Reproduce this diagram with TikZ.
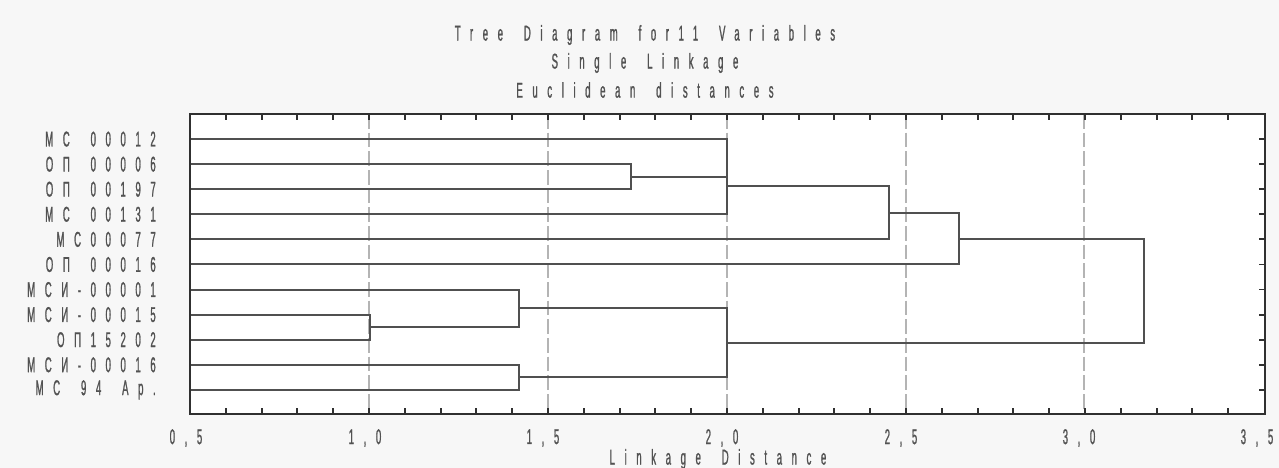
\documentclass[tikz,border=0pt]{standalone}
\usepackage{fontspec}
\newfontfamily\labfont[FakeStretch=0.45,LetterSpace=45,WordSpace=1.7,FakeBold=1]{Liberation Sans}
\definecolor{bgout}{HTML}{F7F7F7}
\definecolor{treecol}{HTML}{505050}
\definecolor{framecol}{HTML}{303030}
\definecolor{gridcol}{HTML}{B4B4B4}
\begin{document}
\begin{tikzpicture}[x=0.75pt,y=-0.75pt,
  lab/.style={font=\labfont\fontsize{16}{17}\selectfont,text=black!68,inner sep=0pt},
  leaf/.style={lab,anchor=east},
  tree/.style={draw=treecol,line width=1.5pt},
  grid/.style={draw=gridcol,line width=1.2pt,dash pattern=on 11pt off 3pt},
  frame/.style={draw=framecol,line width=1.6pt},
  tick/.style={draw=framecol,line width=1.4pt}]
\useasboundingbox (0,0) rectangle (1279,468);
\fill[bgout] (0,0) rectangle (1279,468);
\fill[white] (190,114) rectangle (1265,414);
% titles
\node[lab] (t1) at (645,35) {Tree Diagram for11 Variables};
\node[lab] (t2) at (645,63) {Single Linkage};
\node[lab] (t3) at (645,90) {Euclidean distances};
% grid lines
\foreach \gx in {369,548,727,906,1084}
  \draw[grid] (\gx,114) -- (\gx,414);
% ticks top/bottom every 0.1
\foreach \i in {1,...,29}{
  \pgfmathsetmacro\tx{190+\i*35.8}
  \draw[tick] (\tx,114) -- (\tx,120);
  \draw[tick] (\tx,414) -- (\tx,408);
}
% rows
\foreach \i in {1,...,11}{
  \pgfmathsetmacro\ry{114+\i*25.08}
  \coordinate (r\i) at (190,\ry);
  \draw[tick] (1265,\ry) -- (1259,\ry);
}
% leaf labels
\node[leaf] (n1) at (156,139.1) {MC 00012};
\node[leaf] (n2) at (156,164.2) {ОП 00006};
\node[leaf] (n3) at (156,189.2) {ОП 00197};
\node[leaf] (n4) at (156,214.3) {MC 00131};
\node[leaf] (n5) at (156,239.4) {MC00077};
\node[leaf] (n6) at (156,264.5) {ОП 00016};
\node[leaf] (n7) at (156,289.6) {MCИ-00001};
\node[leaf] (n8) at (156,314.6) {MCИ-00015};
\node[leaf] (n9) at (156,339.7) {ОП15202};
\node[leaf] (n10) at (156,364.8) {MCИ-00016};
\node[leaf] (n11) at (156,389.9) {MC 94 Ap.};
% merge points
\coordinate (m23) at (631,176.7);
\coordinate (mA) at (727,157.9);
\coordinate (mB) at (727,186.1);
\coordinate (mC) at (889,212.75);
\coordinate (mD) at (959,238.6);
\coordinate (m89) at (370,327.15);
\coordinate (m7) at (519,308.4);
\coordinate (m1011) at (519,377.35);
\coordinate (mL) at (727,342.9);
\coordinate (root) at (1144,290.7);
% dendrogram
\draw[tree] (r2) -| (m23) |- (r3);
\draw[tree] (r1) -| (mA) |- (m23);
\draw[tree] (mA) |- (r4);
\draw[tree] (mB) -| (mC) |- (r5);
\draw[tree] (mC) -| (mD) |- (r6);
\draw[tree] (r8) -| (m89) |- (r9);
\draw[tree] (r7) -| (m7) |- (m89);
\draw[tree] (r10) -| (m1011) |- (r11);
\draw[tree] (m7) -| (mL) |- (m1011);
\draw[tree] (mD) -| (root) |- (mL);
% frame
\draw[frame] (190,114) rectangle (1265,414);
% x tick labels
\node[lab] (x1) at (186,438) {0,5};
\node[lab] (x2) at (365,438) {1,0};
\node[lab] (x3) at (543,438) {1,5};
\node[lab] (x4) at (722,438) {2,0};
\node[lab] (x5) at (901,438) {2,5};
\node[lab] (x6) at (1079,438) {3,0};
\node[lab] (x7) at (1257,438) {3,5};
\node[lab] (xl) at (718,459) {Linkage Distance};
\end{tikzpicture}
\end{document}
